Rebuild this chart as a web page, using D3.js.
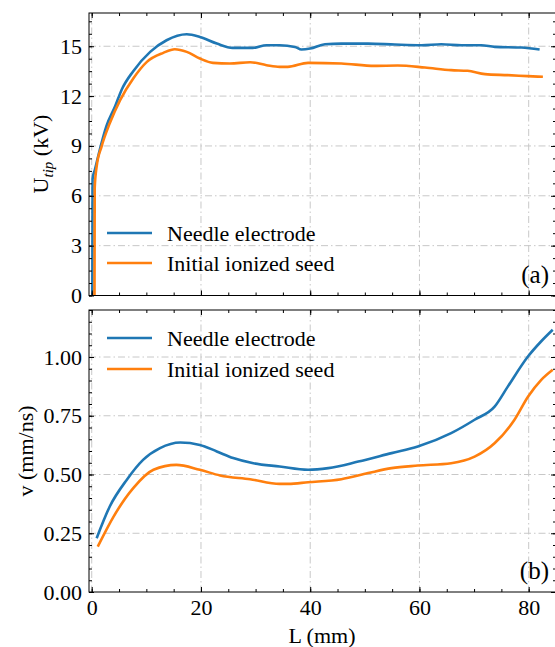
<!DOCTYPE html>
<html lang="en">
    <head>
        <meta charset="utf-8">
        <title>Utip and v vs L</title>
        <script type="text/javascript" src="https://d3js.org/d3.v7.min.js"></script>
        <style>
            body { margin: 0; background: #fff; }
            text { font-family: "Liberation Serif", "DejaVu Serif", serif; fill: #000; }
            .grid line { stroke: #c8c8c8; stroke-width: 1; stroke-dasharray: 7,3,1.5,3; }
            .axis path { display: none; }
            .axis line { stroke: #000; }
            .axis text { font-size: 22px; }
        </style>
    </head>
    <body>
        <svg id="chart" width="555" height="647"></svg>
    </body>
    <script>
        // series
        let needleL = [0.1, 0.15, 0.6, 1.5, 2.7, 4.3, 5.5, 7.6, 10.7, 13.7, 17.4, 19.8, 22.9, 25.8, 29.5, 32, 34.4, 37.2, 38.4, 40, 42.7, 45.7, 50.6, 55.5, 60.4, 64, 67.7, 71.3, 73.8, 78.7, 82];
        let needleU = [-1, 7.0, 7.6, 8.8, 10.2, 11.4, 12.4, 13.5, 14.66, 15.36, 15.72, 15.56, 15.16, 14.9, 14.9, 15.06, 15.06, 14.96, 14.8, 14.86, 15.12, 15.16, 15.16, 15.1, 15.06, 15.12, 15.06, 15.06, 14.96, 14.92, 14.8];
        let seedL = [0.5, 0.55, 0.9, 1.8, 3.3, 5.2, 7.6, 10.1, 13.1, 15.2, 17.4, 19.8, 22.2, 25.3, 29, 32, 34.4, 35.9, 39.6, 45.7, 51.8, 56, 61, 65.8, 68.8, 72, 76.2, 79.8, 82.6];
        let seedU = [-1, 6.5, 7.76, 8.96, 10.36, 11.76, 13.06, 14.06, 14.6, 14.82, 14.66, 14.26, 14.0, 13.96, 14.04, 13.86, 13.76, 13.76, 14.0, 13.96, 13.82, 13.84, 13.72, 13.56, 13.52, 13.32, 13.26, 13.2, 13.16];

        let needleVL = [0.9, 3.3, 6.4, 9.4, 12.5, 16.2, 19.8, 22.9, 25.9, 29.6, 34.4, 39.6, 43.3, 48.8, 54.9, 59.7, 65.8, 70.1, 73.8, 76.2, 79.9, 82.3, 84.4];
        let needleV = [0.229, 0.364, 0.477, 0.562, 0.612, 0.636, 0.626, 0.598, 0.57, 0.548, 0.534, 0.52, 0.527, 0.555, 0.591, 0.619, 0.676, 0.733, 0.79, 0.875, 1.003, 1.067, 1.116];
        let seedVL = [1.1, 4, 7.6, 11.3, 15.5, 19.8, 23.5, 29, 34.4, 36, 39.6, 45.7, 50.6, 54.9, 59.7, 65.8, 70.1, 73.8, 77.4, 79.9, 82.3, 84.4];
        let seedV = [0.193, 0.321, 0.442, 0.52, 0.541, 0.52, 0.496, 0.48, 0.46, 0.46, 0.467, 0.48, 0.506, 0.527, 0.538, 0.548, 0.576, 0.634, 0.733, 0.832, 0.903, 0.946];

        let seriesNames = ["Needle electrode", "Initial ionized seed"];
        let colors = ["#1f77b4", "#ff7f0e"];
        let xTicks = [0, 20, 40, 60, 80];
        let uTicks = [0, 3, 6, 9, 12, 15];
        let vTicks = [0, 0.25, 0.5, 0.75, 1.0];

        let svg = d3.select("#chart");
        let left = 89, right = 556;
        let x = d3.scaleLinear().domain([-0.5, 85]).range([left, right]);
        let yTop = d3.scaleLinear().domain([0, 17]).range([295.5, 13]);
        let yBot = d3.scaleLinear().domain([0, 1.2]).range([592, 310]);

        function drawPanel(id, y, yTicks, yMinor, fmt, series, legendY, tag, showX) {
            let top = y.range()[1], bottom = y.range()[0];
            let g = svg.append("g");

            svg.append("clipPath").attr("id", "clip" + id)
                .append("rect").attr("x", left).attr("y", top)
                .attr("width", right - left).attr("height", bottom - top);

            // grid
            let grid = g.append("g").attr("class", "grid");
            grid.selectAll(".gx").data(xTicks).enter().append("line")
                .attr("x1", d => x(d)).attr("x2", d => x(d))
                .attr("y1", top).attr("y2", bottom);
            grid.selectAll(".gy").data(yTicks.filter(d => d > y.domain()[0])).enter().append("line")
                .attr("x1", left).attr("x2", right)
                .attr("y1", d => y(d)).attr("y2", d => y(d));

            // curves
            let line = d3.line().x(d => x(d[0])).y(d => y(d[1])).curve(d3.curveMonotoneX);
            let lines = g.append("g").attr("clip-path", "url(#clip" + id + ")");
            series.forEach((s, i) => {
                lines.append("path")
                    .datum(d3.zip(s[0], s[1]))
                    .attr("fill", "none")
                    .attr("stroke", colors[i])
                    .attr("stroke-width", 2.6)
                    .attr("stroke-linejoin", "round")
                    .attr("d", line);
            });

            // axes, ticks pointing in
            let xMinor = d3.range(0, 86, 5);
            g.append("g").attr("class", "axis").attr("transform", `translate(0,${bottom})`)
                .call(d3.axisBottom(x).tickValues(xMinor).tickSize(-3).tickFormat(""));
            g.append("g").attr("class", "axis").attr("transform", `translate(0,${bottom})`)
                .call(d3.axisBottom(x).tickValues(xTicks).tickSize(-5).tickPadding(7)
                    .tickFormat(showX ? d3.format("d") : ""));
            g.append("g").attr("class", "axis").attr("transform", `translate(0,${top})`)
                .call(d3.axisTop(x).tickValues(xMinor).tickSize(-3).tickFormat(""));
            g.append("g").attr("class", "axis").attr("transform", `translate(0,${top})`)
                .call(d3.axisTop(x).tickValues(xTicks).tickSize(-5).tickFormat(""));

            g.append("g").attr("class", "axis").attr("transform", `translate(${left},0)`)
                .call(d3.axisLeft(y).tickValues(yMinor).tickSize(-3).tickFormat(""));
            g.append("g").attr("class", "axis").attr("transform", `translate(${left},0)`)
                .call(d3.axisLeft(y).tickValues(yTicks).tickSize(-5).tickPadding(7).tickFormat(fmt));
            g.append("g").attr("class", "axis").attr("transform", `translate(${right},0)`)
                .call(d3.axisRight(y).tickValues(yMinor).tickSize(-3).tickFormat(""));
            g.append("g").attr("class", "axis").attr("transform", `translate(${right},0)`)
                .call(d3.axisRight(y).tickValues(yTicks).tickSize(-5).tickFormat(""));

            // frame
            g.append("rect").attr("x", left).attr("y", top)
                .attr("width", right - left).attr("height", bottom - top)
                .attr("fill", "none").attr("stroke", "#000").attr("stroke-width", 1);

            // legend
            seriesNames.forEach((name, i) => {
                g.append("line").attr("x1", 107).attr("x2", 152)
                    .attr("y1", legendY[i]).attr("y2", legendY[i])
                    .attr("stroke", colors[i]).attr("stroke-width", 2.6);
                g.append("text").attr("x", 167).attr("y", legendY[i])
                    .attr("dy", "0.35em").style("font-size", "22px").text(name);
            });

            g.append("text").attr("x", 549).attr("y", bottom - 13)
                .attr("text-anchor", "end").style("font-size", "25px").text(tag);
        }

        drawPanel("a", yTop, uTicks, d3.range(0, 17.1, 0.75), d3.format("d"),
            [[needleL, needleU], [seedL, seedU]], [233, 263], "(a)", false);
        drawPanel("b", yBot, vTicks, d3.range(0, 1.201, 0.05), d3.format(".2f"),
            [[needleVL, needleV], [seedVL, seedV]], [338, 369], "(b)", true);

        // axis titles
        let uLab = svg.append("text").attr("transform", "translate(40,154) rotate(-90)")
            .attr("text-anchor", "middle").attr("dy", "0.35em").style("font-size", "22px");
        uLab.append("tspan").text("U");
        uLab.append("tspan").attr("dy", "5").style("font-size", "15px").style("font-style", "italic").text("tip");
        uLab.append("tspan").attr("dy", "-5").text(" (kV)");

        svg.append("text").attr("transform", "translate(25,451) rotate(-90)")
            .attr("text-anchor", "middle").attr("dy", "0.35em").style("font-size", "22px")
            .text("v (mm/ns)");

        svg.append("text").attr("x", 322).attr("y", 635).attr("dy", "0.35em")
            .attr("text-anchor", "middle").style("font-size", "22px").text("L (mm)");
    </script>
</html>
